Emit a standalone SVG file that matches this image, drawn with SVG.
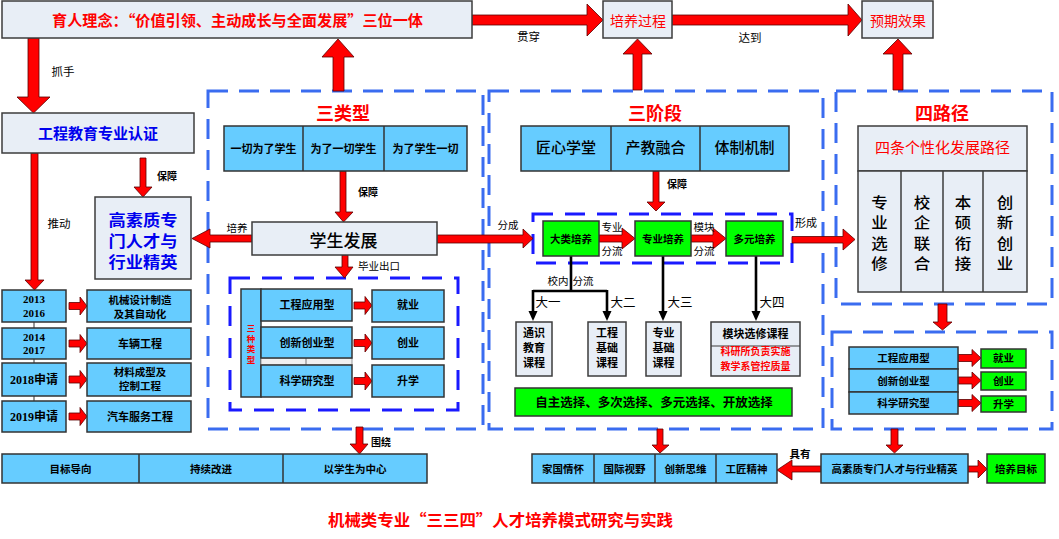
<svg xmlns="http://www.w3.org/2000/svg" xmlns:xlink="http://www.w3.org/1999/xlink" width="1059" height="539" viewBox="0 0 1059 539">
<style>
text{font-family:"Noto Sans CJK SC","Noto Sans",sans-serif;text-anchor:middle;fill:#000}
.lt{fill:#e8eef6;stroke:#3c3c3c;stroke-width:1.5}
.bl{fill:#66ccff;stroke:#333;stroke-width:1.5}
.gr{fill:#00ff00;stroke:#333;stroke-width:1.5}
.ar{fill:#ff0000;stroke:#5a0000;stroke-width:0.8}
.fo{fill:none;stroke:#3a6cf0;stroke-width:3;stroke-dasharray:20 11}
.fi{fill:none;stroke:#1a1aff;stroke-width:3;stroke-dasharray:20 12}
.bk{stroke:#000;stroke-width:2.6;fill:none}
.s{font-size:11px;font-weight:bold}
.l{font-size:11.5px}
.rt{font-size:18px;font-weight:bold;fill:#ff0000}
.yr{font-family:"Liberation Serif","Noto Sans CJK SC",serif;font-size:11px;font-weight:bold}
.hq{font-size:15.5px;font-weight:bold;fill:#0000ee}
.vc{font-size:15.3px;font-weight:500}
</style>
<defs>
<path id="sa" class="ar" d="M0,-3.5 H11 V-9 L18,0 L11,9 V3.5 H0 Z"/>
<path id="sb" class="ar" d="M0,-3.5 H14 V-8.5 L23,0 L14,8.5 V3.5 H0 Z"/>
<path id="bh" fill="#000" d="M-4.5,-10 L4.5,-10 L0,0 Z"/>
</defs>

<!-- dashed frames -->
<g id="frames">
<rect class="fo" x="208" y="91" width="275" height="338"/>
<rect class="fo" x="489" y="91" width="334" height="338"/>
<rect class="fo" x="836" y="91" width="216" height="213"/>
<rect class="fo" x="832" y="332" width="220" height="97"/>
<rect class="fi" x="230" y="278" width="228" height="132"/>
<rect class="fi" x="533" y="214" width="259" height="49"/>
</g>

<g id="connectors">
<polygon class="ar" points="472,15 587,15 587,4 603,20 587,36 587,25 472,25"/>
<polygon class="ar" points="672,15 848,15 848,4 862,20 848,36 848,25 672,25"/>
<polygon class="ar" points="333,91 333,57 322,57 338,39 354,57 344,57 344,91"/>
<polygon class="ar" points="633,90 633,54 623,54 637.5,39 652,54 642,54 642,90"/>
<polygon class="ar" points="893,90 893,54 883,54 898,39 912,54 903,54 903,90"/>
<polygon class="ar" points="28,38 39,38 39,97 50,97 33.5,113 17,97 28,97"/>
<polygon class="ar" points="31,153 38,153 38,280 44,280 34.5,290 25,280 31,280"/>
<polygon class="ar" points="140,158 146,158 146,187 152,187 143,197 134,187 140,187"/>
<polygon class="ar" points="252,235 210,235 210,229 192,238.5 210,248 210,242 252,242"/>
<polygon class="ar" points="340,171 346,171 346,212 353,212 343.5,222 335,212 340,212"/>
<polygon class="ar" points="342,255 348,255 348,267 353,267 344.5,278 335,267 342,267"/>
<polygon class="ar" points="437,235 523,235 523,229 533,238.5 523,248 523,243 437,243"/>
<polygon class="ar" points="653,171 659,171 659,202 665,202 656,211 647,202 653,202"/>
<polygon class="ar" points="599,235 622,235 622,228 635,238.5 622,249 622,242 599,242"/>
<polygon class="ar" points="691,235 713,235 713,228 726,238.5 713,249 713,242 691,242"/>
<polygon class="ar" points="792,236.5 843,236.5 843,229 855,239.5 843,250 843,243 792,243"/>
<polygon class="ar" points="356,427 363,427 363,444 368,444 359.5,454 350,444 356,444"/>
<polygon class="ar" points="657,429 663,429 663,445 669,445 660,453 652,445 657,445"/>
<polygon class="ar" points="891,429 898,429 898,445 903,445 894.5,453 886,445 891,445"/>
<polygon class="ar" points="938,304 947,304 947,322 952,322 942.5,330 933,322 938,322"/>
<polygon class="ar" points="821,466 792,466 792,460 777,470 792,480 792,472 821,472"/>
<polygon class="ar" points="968,466 978,466 978,460 987,469 978,478 978,472 968,472"/>
<use xlink:href="#sa" x="69" y="306"/>
<use xlink:href="#sa" x="69" y="343.5"/>
<use xlink:href="#sa" x="69" y="379.5"/>
<use xlink:href="#sa" x="69" y="416.5"/>
<use xlink:href="#sa" x="354" y="305.5"/>
<use xlink:href="#sa" x="354" y="343"/>
<use xlink:href="#sa" x="354" y="381"/>
<use xlink:href="#sb" x="958" y="358"/>
<use xlink:href="#sb" x="958" y="380.5"/>
<use xlink:href="#sb" x="958" y="403"/>
<path class="bk" d="M571,256 V291 M533,291 H607 M533,290 V312 M607,290 V312 M663,256 V312 M756,256 V312"/>
<use xlink:href="#bh" x="533" y="321"/>
<use xlink:href="#bh" x="607" y="321"/>
<use xlink:href="#bh" x="663" y="321"/>
<use xlink:href="#bh" x="756" y="321"/>
<line x1="34" y1="322" x2="34" y2="401" stroke="#555" stroke-width="1.2"/>
<!-- labels -->
<text class="l" x="528.5" y="41">贯穿</text>
<text class="l" x="750" y="42">达到</text>
<text class="l" x="63" y="76">抓手</text>
<text class="l" x="59" y="228">推动</text>
<text class="s" x="167" y="180" style="font-size:10px">保障</text>
<text class="s" x="368" y="196" style="font-size:10px">保障</text>
<text class="l" x="237" y="232" style="font-size:10.5px">培养</text>
<text class="l" x="379" y="270" style="font-size:10.5px">毕业出口</text>
<text class="l" x="508" y="229" style="font-size:10.5px">分成</text>
<text class="s" x="677" y="188" style="font-size:10px">保障</text>
<text class="l" x="612" y="231" style="font-size:10.5px">专业</text>
<text class="l" x="612" y="255" style="font-size:10.5px">分流</text>
<text class="l" x="704" y="231" style="font-size:10.5px">模块</text>
<text class="l" x="704" y="255" style="font-size:10.5px">分流</text>
<text class="l" x="806" y="227" style="font-size:11px">形成</text>
<text class="l" x="558" y="285" style="font-size:10.5px">校内</text>
<text class="l" x="583" y="285" style="font-size:10.5px">分流</text>
<text class="l" x="548" y="307" style="font-size:12.5px">大一</text>
<text class="l" x="623" y="307" style="font-size:12.5px">大二</text>
<text class="l" x="680" y="307" style="font-size:12.5px">大三</text>
<text class="l" x="772" y="307" style="font-size:12.5px">大四</text>
<text class="s" x="381" y="446" style="font-size:10px">围绕</text>
<text class="s" x="800" y="458" style="font-size:10.5px">具有</text>
</g>

<g id="top-idea">
<rect class="lt" x="2" y="1" width="470" height="37"/>
<text x="237.5" y="26" textLength="371" lengthAdjust="spacingAndGlyphs" style="font-size:15px;font-weight:bold;fill:#ff0000">育人理念：“价值引领、主动成长与全面发展”三位一体</text>
</g>
<g id="process">
<rect class="lt" x="603" y="1" width="69" height="37"/>
<text x="638" y="26" style="font-size:14px;fill:#ff0000">培养过程</text>
</g>
<g id="effect">
<rect class="lt" x="862" y="1" width="71" height="37"/>
<text x="898" y="26" style="font-size:14px;fill:#ff0000">预期效果</text>
</g>

<g id="cert">
<rect class="lt" x="2" y="113" width="192" height="40"/>
<text x="98" y="139" style="font-size:15px;font-weight:bold;fill:#0000ee">工程教育专业认证</text>
</g>
<g id="talent-left">
<rect class="lt" x="95" y="197" width="96" height="82"/>
<text class="hq" x="143" y="225.5" textLength="69" lengthAdjust="spacingAndGlyphs">高素质专</text>
<text class="hq" x="143" y="246.5" textLength="69" lengthAdjust="spacingAndGlyphs">门人才与</text>
<text class="hq" x="143" y="267.5" textLength="69" lengthAdjust="spacingAndGlyphs">行业精英</text>
</g>

<g id="majors">
<rect class="bl" x="2" y="290" width="64" height="32"/>
<text class="yr" x="34" y="303">2013</text>
<text class="yr" x="34" y="316.5">2016</text>
<rect class="bl" x="87" y="290" width="104" height="32"/>
<text class="s" x="140" y="303.5" style="font-size:10.5px">机械设计制造</text>
<text class="s" x="140" y="318" style="font-size:10.5px">及其自动化</text>
<rect class="bl" x="2" y="328" width="64" height="31"/>
<text class="yr" x="34" y="340.5">2014</text>
<text class="yr" x="34" y="354">2017</text>
<rect class="bl" x="87" y="328" width="104" height="31"/>
<text class="s" x="140" y="348">车辆工程</text>
<rect class="bl" x="2" y="363" width="64" height="33"/>
<text class="yr" x="34" y="384" style="font-size:12px">2018申请</text>
<rect class="bl" x="87" y="363" width="104" height="33"/>
<text class="s" x="140" y="375.5" style="font-size:10.5px">材料成型及</text>
<text class="s" x="140" y="390" style="font-size:10.5px">控制工程</text>
<rect class="bl" x="2" y="401" width="64" height="31"/>
<text class="yr" x="34" y="421" style="font-size:12px">2019申请</text>
<rect class="bl" x="87" y="401" width="104" height="31"/>
<text class="s" x="140" y="421">汽车服务工程</text>
</g>

<g id="three-types">
<text class="rt" x="343" y="120">三类型</text>
<rect class="bl" x="224" y="126" width="243" height="45"/>
<line x1="303" y1="126" x2="303" y2="171" stroke="#333" stroke-width="1.5"/>
<line x1="384" y1="126" x2="384" y2="171" stroke="#333" stroke-width="1.5"/>
<text class="s" x="263.5" y="153">一切为了学生</text>
<text class="s" x="343.5" y="153">为了一切学生</text>
<text class="s" x="425.5" y="153">为了学生一切</text>
</g>
<g id="student-dev">
<rect class="lt" x="252" y="222" width="185" height="33"/>
<text x="343.5" y="247" style="font-size:17px;font-weight:500">学生发展</text>
</g>
<g id="three-kinds">
<rect class="bl" x="241" y="289" width="20" height="108"/>
<text x="251" y="331" style="font-size:8.5px;font-weight:bold;fill:#ff0000">三</text>
<text x="251" y="341.5" style="font-size:8.5px;font-weight:bold;fill:#ff0000">种</text>
<text x="251" y="352" style="font-size:8.5px;font-weight:bold;fill:#ff0000">类</text>
<text x="251" y="362.5" style="font-size:8.5px;font-weight:bold;fill:#ff0000">型</text>
<rect x="261" y="358" width="91" height="7" fill="#f0f0f0" stroke="#999" stroke-width="1"/>
<line x1="306" y1="358" x2="306" y2="365" stroke="#777" stroke-width="1"/>
<rect class="bl" x="261" y="289" width="91" height="32"/>
<rect class="bl" x="261" y="327" width="91" height="31"/>
<rect class="bl" x="261" y="365" width="91" height="32"/>
<text class="s" x="307" y="309">工程应用型</text>
<text class="s" x="307" y="346.5">创新创业型</text>
<text class="s" x="307" y="385">科学研究型</text>
<rect class="bl" x="372" y="290" width="72" height="32"/>
<rect class="bl" x="372" y="327" width="72" height="32"/>
<rect class="bl" x="372" y="365" width="72" height="32"/>
<text class="s" x="408" y="309">就业</text>
<text class="s" x="408" y="347">创业</text>
<text class="s" x="408" y="385">升学</text>
</g>

<g id="three-stages">
<text class="rt" x="655" y="120">三阶段</text>
<rect class="bl" x="521" y="126" width="268" height="45"/>
<line x1="611" y1="126" x2="611" y2="171" stroke="#333" stroke-width="1.5"/>
<line x1="700" y1="126" x2="700" y2="171" stroke="#333" stroke-width="1.5"/>
<text x="566" y="153" style="font-size:15px;font-weight:500">匠心学堂</text>
<text x="655.5" y="153" style="font-size:15px;font-weight:500">产教融合</text>
<text x="744.5" y="153" style="font-size:15px;font-weight:500">体制机制</text>
</g>
<g id="stage-1">
<rect class="gr" x="543" y="221" width="56" height="35"/>
<text class="s" x="571" y="243" style="font-size:10.5px">大类培养</text>
</g>
<g id="stage-2">
<rect class="gr" x="635" y="221" width="56" height="35"/>
<text class="s" x="663" y="243" style="font-size:10.5px">专业培养</text>
</g>
<g id="stage-3">
<rect class="gr" x="726" y="221" width="57" height="35"/>
<text class="s" x="754.5" y="243" style="font-size:10.5px">多元培养</text>
</g>
<g id="courses">
<rect class="lt" x="516" y="322" width="36" height="54"/>
<text class="s" x="534" y="337">通识</text>
<text class="s" x="534" y="352">教育</text>
<text class="s" x="534" y="367">课程</text>
<rect class="lt" x="588" y="322" width="38" height="54"/>
<text class="s" x="607" y="337">工程</text>
<text class="s" x="607" y="352">基础</text>
<text class="s" x="607" y="367">课程</text>
<rect class="lt" x="646" y="322" width="35" height="54"/>
<text class="s" x="663.5" y="337">专业</text>
<text class="s" x="663.5" y="352">基础</text>
<text class="s" x="663.5" y="367">课程</text>
<rect class="lt" x="711" y="322" width="89" height="54"/>
<line x1="711" y1="346" x2="800" y2="346" stroke="#3c3c3c" stroke-width="1.2"/>
<text class="s" x="755.5" y="338">模块选修课程</text>
<text class="s" x="755.5" y="355" style="font-size:10px;fill:#ff0000">科研所负责实施</text>
<text class="s" x="755.5" y="370" style="font-size:10px;fill:#ff0000">教学系管控质量</text>
</g>
<g id="choices">
<rect class="gr" x="515" y="388" width="277" height="28"/>
<text x="654" y="407" style="font-size:12.5px;font-weight:bold">自主选择、多次选择、多元选择、开放选择</text>
</g>

<g id="four-paths">
<text class="rt" x="942" y="120">四路径</text>
<rect class="lt" x="858" y="126" width="169" height="45"/>
<text x="942.5" y="153" style="font-size:15px;fill:#ff0000">四条个性化发展路径</text>
<rect class="lt" x="858" y="171" width="169" height="121"/>
<line x1="901" y1="171" x2="901" y2="292" stroke="#3c3c3c" stroke-width="1.5"/>
<line x1="943" y1="171" x2="943" y2="292" stroke="#3c3c3c" stroke-width="1.5"/>
<line x1="983" y1="171" x2="983" y2="292" stroke="#3c3c3c" stroke-width="1.5"/>
<g class="vc">
<text x="879.5" y="207.5" textLength="16.5" lengthAdjust="spacingAndGlyphs">专</text><text x="879.5" y="228" textLength="16.5" lengthAdjust="spacingAndGlyphs">业</text><text x="879.5" y="248.5" textLength="16.5" lengthAdjust="spacingAndGlyphs">选</text><text x="879.5" y="269" textLength="16.5" lengthAdjust="spacingAndGlyphs">修</text>
<text x="922" y="207.5" textLength="16.5" lengthAdjust="spacingAndGlyphs">校</text><text x="922" y="228" textLength="16.5" lengthAdjust="spacingAndGlyphs">企</text><text x="922" y="248.5" textLength="16.5" lengthAdjust="spacingAndGlyphs">联</text><text x="922" y="269" textLength="16.5" lengthAdjust="spacingAndGlyphs">合</text>
<text x="963" y="207.5" textLength="16.5" lengthAdjust="spacingAndGlyphs">本</text><text x="963" y="228" textLength="16.5" lengthAdjust="spacingAndGlyphs">硕</text><text x="963" y="248.5" textLength="16.5" lengthAdjust="spacingAndGlyphs">衔</text><text x="963" y="269" textLength="16.5" lengthAdjust="spacingAndGlyphs">接</text>
<text x="1005" y="207.5" textLength="16.5" lengthAdjust="spacingAndGlyphs">创</text><text x="1005" y="228" textLength="16.5" lengthAdjust="spacingAndGlyphs">新</text><text x="1005" y="248.5" textLength="16.5" lengthAdjust="spacingAndGlyphs">创</text><text x="1005" y="269" textLength="16.5" lengthAdjust="spacingAndGlyphs">业</text>
</g>
</g>
<g id="outcomes-right">
<rect class="bl" x="849" y="347" width="109" height="22"/>
<rect class="bl" x="849" y="369" width="109" height="23"/>
<rect class="bl" x="849" y="392" width="109" height="22"/>
<text class="s" x="903.5" y="362" style="font-size:10.5px">工程应用型</text>
<text class="s" x="903.5" y="385" style="font-size:10.5px">创新创业型</text>
<text class="s" x="903.5" y="407" style="font-size:10.5px">科学研究型</text>
<rect class="gr" x="981" y="349" width="45" height="19"/>
<rect class="gr" x="981" y="372" width="45" height="18"/>
<rect class="gr" x="981" y="396" width="45" height="16"/>
<text class="s" x="1003.5" y="362" style="font-size:10.5px">就业</text>
<text class="s" x="1003.5" y="385" style="font-size:10.5px">创业</text>
<text class="s" x="1003.5" y="408" style="font-size:10.5px">升学</text>
</g>

<g id="principles">
<rect class="bl" x="2" y="454" width="425" height="29"/>
<line x1="139" y1="454" x2="139" y2="483" stroke="#333" stroke-width="1.5"/>
<line x1="283" y1="454" x2="283" y2="483" stroke="#333" stroke-width="1.5"/>
<text class="s" x="70.5" y="473" style="font-size:10.5px">目标导向</text>
<text class="s" x="211" y="473" style="font-size:10.5px">持续改进</text>
<text class="s" x="355" y="473" style="font-size:10.5px">以学生为中心</text>
</g>
<g id="qualities">
<rect class="bl" x="532" y="454" width="245" height="29"/>
<line x1="594" y1="454" x2="594" y2="483" stroke="#333" stroke-width="1.5"/>
<line x1="655" y1="454" x2="655" y2="483" stroke="#333" stroke-width="1.5"/>
<line x1="716" y1="454" x2="716" y2="483" stroke="#333" stroke-width="1.5"/>
<text class="s" x="563" y="473" style="font-size:10.5px">家国情怀</text>
<text class="s" x="624.5" y="473" style="font-size:10.5px">国际视野</text>
<text class="s" x="685.5" y="473" style="font-size:10.5px">创新思维</text>
<text class="s" x="746.5" y="473" style="font-size:10.5px">工匠精神</text>
</g>
<g id="talent-bottom">
<rect class="bl" x="821" y="454" width="147" height="29"/>
<text class="s" x="894.5" y="473" style="font-size:10.5px">高素质专门人才与行业精英</text>
</g>
<g id="goal">
<rect class="gr" x="987" y="454" width="58" height="29"/>
<text class="s" x="1016" y="473" style="font-size:10.5px">培养目标</text>
</g>

<text x="500.5" y="526" textLength="345" lengthAdjust="spacingAndGlyphs" style="font-size:16px;font-weight:bold;fill:#ff0000">机械类专业“三三四”人才培养模式研究与实践</text>
</svg>
